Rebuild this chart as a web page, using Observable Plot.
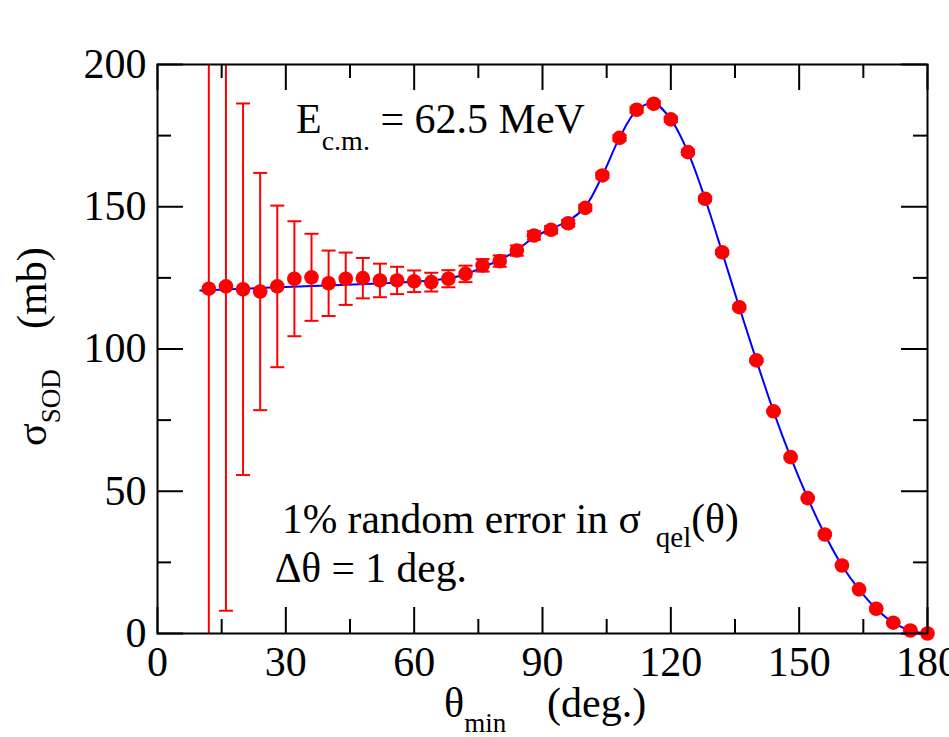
<!DOCTYPE html>
<html>
<head>
<meta charset="utf-8">
<script src="https://cdn.jsdelivr.net/npm/d3@7"></script>
<script src="https://cdn.jsdelivr.net/npm/@observablehq/plot@0.6"></script>
<style>
  html, body { margin: 0; padding: 0; background: white; }
  svg { display: block; }
</style>
</head>
<body>
<div id="chart"></div>
<script>
// ---- data ----
const theta = [12,16,20,24,28,32,36,40,44,48,52,56,60,64,68,72,76,80,84,88,92,96,100,104,108,112,116,120,124,128,132,136,140,144,148,152,156,160,164,168,172,176,180];
const sigma = [121.2,122,121,120.2,122,124.7,125.2,123.1,124.7,124.9,124.1,124.1,123.8,123.5,124.7,126.4,129.4,130.9,134.6,139.9,141.9,144.2,149.6,161,174.2,184.1,186.2,180.7,169.2,152.8,134,114.7,96,78.1,62,47.6,34.8,23.9,15.5,8.7,3.8,1.05,0];
const sigmaErr = [150,114,65.3,41.7,28.4,20.2,15.3,11.5,9.2,7.1,5.9,4.8,3.8,3.3,3.0,2.9,2.2,2.0,1.8,1.5,1.3,1.2,1.1,1.0,1.0,1.0,0.9,0.9,0.8,0.8,0.7,0.7,0.6,0.5,0.5,0.4,0.3,0.3,0.2,0.2,0.1,0.1,0];

const thetaTheory = [10,20,30,40,50,60,66,72,76,80,84,88,92,96,100,104,108,112,116,120,124,128,132,136,140,144,148,152,156,160,164,168,172,176,180];
const sigmaTheory = [120.6,121.2,121.8,122.3,122.9,123.6,124.4,126.2,128.8,131.2,134.8,139.2,142.3,145,150,161,174.2,183.8,186.4,180.7,169.2,152.8,134,114.7,96,78.1,62,47.6,34.8,23.9,15.5,8.7,3.8,1.0,0];

const xMajorTicks = [0,30,60,90,120,150,180];
const xMinorTicks = [15,45,75,105,135,165];
const yMajorTicks = [0,50,100,150,200];
const yMinorTicks = [25,75,125,175];

// ---- tables built from the arrays ----
const points = theta.map((t, i) => ({theta: t, sigma: sigma[i], err: sigmaErr[i]}));
const theory = thetaTheory.map((t, i) => ({theta: t, sigma: sigmaTheory[i]}));

const W = 949, H = 737;
const mL = 157, mR = 22, mT = 64, mB = 104;
const innerW = W - mL - mR, innerH = H - mT - mB;
const majorLen = 26, minorLen = 14;
const RED = "#ff0000", BLUE = "#0000ff";

const capSymbol = {
  draw(context, size) {
    const w = Math.sqrt(size / Math.PI);
    context.moveTo(-w, 0);
    context.lineTo(w, 0);
  }
};

const plot = Plot.plot({
  width: W,
  height: H,
  marginLeft: mL,
  marginRight: mR,
  marginTop: mT,
  marginBottom: mB,
  style: {fontFamily: "Liberation Serif", fontSize: "42px", background: "white", color: "black"},
  x: {domain: [0, 180]},
  y: {domain: [0, 200]},
  marks: [
    // ticks inward, all four sides
    Plot.tickX(xMajorTicks, {x: d => d, insetTop: innerH - majorLen, stroke: "black", strokeWidth: 2}),
    Plot.tickX(xMinorTicks, {x: d => d, insetTop: innerH - minorLen, stroke: "black", strokeWidth: 2}),
    Plot.tickX(xMajorTicks, {x: d => d, insetBottom: innerH - majorLen, stroke: "black", strokeWidth: 2}),
    Plot.tickX(xMinorTicks, {x: d => d, insetBottom: innerH - minorLen, stroke: "black", strokeWidth: 2}),
    Plot.tickY(yMajorTicks, {y: d => d, insetRight: innerW - majorLen, stroke: "black", strokeWidth: 2}),
    Plot.tickY(yMinorTicks, {y: d => d, insetRight: innerW - minorLen, stroke: "black", strokeWidth: 2}),
    Plot.tickY(yMajorTicks, {y: d => d, insetLeft: innerW - majorLen, stroke: "black", strokeWidth: 2}),
    Plot.tickY(yMinorTicks, {y: d => d, insetLeft: innerW - minorLen, stroke: "black", strokeWidth: 2}),
    // tick labels
    Plot.axisX({ticks: xMajorTicks, tickSize: 0, tickPadding: 13, tickFormat: d => String(d), label: null, fontSize: 42}),
    Plot.axisY({ticks: yMajorTicks, tickSize: 0, tickPadding: 11, tickFormat: d => String(d), label: null, fontSize: 42}),
    // theory curve
    Plot.line(theory, {x: "theta", y: "sigma", stroke: BLUE, strokeWidth: 2, curve: "catmull-rom"}),
    // error bars
    Plot.ruleX(points, {x: "theta", y1: d => d.sigma - d.err, y2: d => d.sigma + d.err, stroke: RED, strokeWidth: 2, clip: true}),
    Plot.dot(points, {x: "theta", y: d => d.sigma + d.err, symbol: capSymbol, r: 7, stroke: RED, strokeWidth: 2, fill: "none", clip: true}),
    Plot.dot(points, {x: "theta", y: d => d.sigma - d.err, symbol: capSymbol, r: 7, stroke: RED, strokeWidth: 2, fill: "none", clip: true}),
    // data points
    Plot.dot(points, {x: "theta", y: "sigma", r: 7.3, fill: RED, stroke: "none"}),
    Plot.frame({stroke: "black", strokeWidth: 2})
  ]
});

document.getElementById("chart").appendChild(plot);

// ---- annotations with sub-scripts ----
const svg = d3.select(plot);
const xs = plot.scale("x"), ys = plot.scale("y");
const FF = "Liberation Serif";

function addText() {
  return svg.append("text")
    .attr("font-family", FF)
    .attr("text-anchor", "start")
    .attr("fill", "black");
}

// E_c.m. = 62.5 MeV
{
  const t = addText()
    .attr("x", xs.apply(32.5)).attr("y", ys.apply(175.7))
    .attr("font-size", 42);
  t.append("tspan").text("E");
  t.append("tspan").attr("font-size", 28).attr("dy", 17).text("c.m.");
  t.append("tspan").attr("dy", -17).text(" = 62.5 MeV");
}
// 1% random error in σ_qel(θ)
{
  const t = addText()
    .attr("x", xs.apply(29.2)).attr("y", ys.apply(35.2))
    .attr("font-size", 41.5);
  t.append("tspan").text("1% random error in σ");
  t.append("tspan").attr("font-size", 29).attr("dy", 14).attr("dx", 15).text("qel");
  t.append("tspan").attr("dy", -14).text("(θ)");
}
// Δθ = 1 deg.
addText()
  .attr("x", xs.apply(27.5)).attr("y", ys.apply(17.8))
  .attr("font-size", 41.5)
  .text("Δθ = 1 deg.");

// x-axis label: θ_min (deg.)
{
  const t = addText()
    .attr("x", 444).attr("y", 717)
    .attr("font-size", 42);
  t.append("tspan").text("θ");
  t.append("tspan").attr("font-size", 27).attr("dy", 15).text("min");
  t.append("tspan").attr("x", 547).attr("dy", -15).text("(deg.)");
}
// y-axis label: σ_SOD (mb)
{
  const t = addText()
    .attr("transform", "translate(46,446) rotate(-90)")
    .attr("font-size", 42);
  t.append("tspan").attr("x", 0).text("σ");
  t.append("tspan").attr("font-size", 27).attr("dy", 14).text("SOD");
  t.append("tspan").attr("x", 117).attr("dy", -14).text("(mb)");
}
</script>
</body>
</html>
